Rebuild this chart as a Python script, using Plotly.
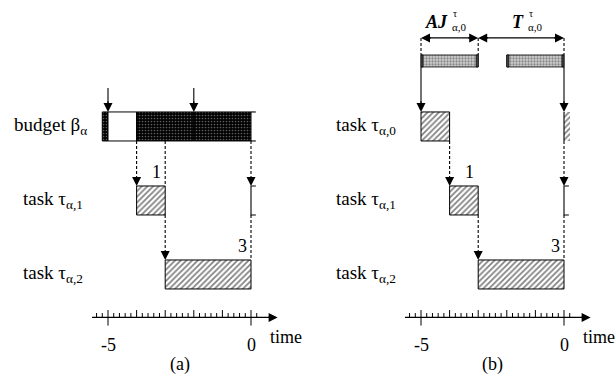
import plotly.graph_objects as go

# ---------------- data ----------------
# panel (a): budget segments (start, end, kind)
budget_a = [(-5.2, -5.0, "dark"), (-5.0, -4.0, "white"), (-4.0, -2.0, "dark"), (-2.0, 0.0, "dark")]
replenish_a = [-5.0, -2.0]
task1_a = (-4.0, -3.0)
task2_a = (-3.0, 0.0)
# panel (b)
task0_b = (-5.0, -4.0)
task0_next_b = (0.0, 0.2)
task1_b = (-4.0, -3.0)
task2_b = (-3.0, 0.0)
windows_b = [(-5.0, -3.0), (-2.0, 0.0)]
dims_b = [(-5.0, -3.0), (-3.0, 0.0)]
tick_labels = [(-5, "-5"), (0, "0")]
minor_ticks = [round(-5.4 + 0.2 * i, 1) for i in range(29)]
rows = {"top": 0, "mid": 1, "bot": 2}

# ---------------- style / layout ----------------
FONT = "Liberation Serif"
H = 0.392          # bar height (row units)
TOPBAR_Y = -0.885
TOPBAR_H = 0.162
DIM_Y = -1.196
AXIS_Y = 2.581
SCALE = 28.6  # px per unit
HATCH = dict(shape="/", fgcolor="#000", bgcolor="white", size=4, solidity=0.42)
DOTS = dict(shape=".", fgcolor="#bbbbbb", bgcolor="black", size=3, solidity=0.25)
GRAYDOTS = dict(shape=".", fgcolor="#444", bgcolor="#cfcfcf", size=3, solidity=0.45)

fig = go.Figure()
annotations = []


def bar(xa, seg, r, pattern=None, color="white", h=H, lw=1):
    s, e = seg
    m = dict(color=color, line=dict(color="black", width=lw))
    if pattern:
        m["pattern"] = pattern
    fig.add_trace(go.Bar(orientation="h", y=[r], x=[e - s], base=[s], width=[h],
                         marker=m, xaxis=xa, yaxis="y", showlegend=False,
                         hoverinfo="skip"))


def line(xa, xs, ys, dash="solid", w=1.1):
    fig.add_trace(go.Scatter(x=xs, y=ys, mode="lines", xaxis=xa, yaxis="y",
                             line=dict(color="black", width=w, dash=dash),
                             showlegend=False, hoverinfo="skip"))


def arrowhead(xa, x, y, ax, ay, side="end"):
    annotations.append(dict(xref=xa, yref="y", axref=xa, ayref="y", x=x, y=y,
                            ax=ax, ay=ay, text="", showarrow=True, arrowhead=2,
                            arrowsize=1.5, arrowwidth=1.2, arrowcolor="black",
                            arrowside=side, standoff=0, startstandoff=0))


def text(xa, x, y, t, size=18, xanchor="center", yanchor="middle"):
    annotations.append(dict(xref=xa, yref="y", x=x, y=y, text=t, showarrow=False,
                            font=dict(family=FONT, size=size, color="black"),
                            xanchor=xanchor, yanchor=yanchor))


def bracket(xa, x, r):
    line(xa, [x + 0.17, x, x, x + 0.17], [r - H / 2, r - H / 2, r + H / 2, r + H / 2])


def dashed_arrow(xa, x, y0, y1, head=True):
    line(xa, [x, x], [y0, y1], dash="3px,2px")
    if head:
        arrowhead(xa, x, y1, x, y1 - 0.14)


def time_axis(xa, label):
    line(xa, [-5.56, 0.8], [AXIS_Y, AXIS_Y], w=1.2)
    arrowhead(xa, 0.93, AXIS_Y, 0.55, AXIS_Y)
    xs, ys = [], []
    for t in minor_ticks:
        up = 0.1 if abs(t - round(t)) < 1e-6 else 0.06
        down = 0.11 if round(t) in (-5, 0) and abs(t - round(t)) < 1e-6 else 0
        xs += [t, t, None]
        ys += [AXIS_Y - up, AXIS_Y + down, None]
    fig.add_trace(go.Scatter(x=xs, y=ys, mode="lines", xaxis=xa, yaxis="y",
                             line=dict(color="black", width=1), showlegend=False,
                             hoverinfo="skip"))
    for v, t in tick_labels:
        text(xa, v, 2.953, t)
    text(xa, 0.58, 2.85, "time", xanchor="left")
    text(xa, -2.5, 3.223, label)


# ---------------- panel (a) ----------------
xa = "x"
top, mid, bot = rows["top"], rows["mid"], rows["bot"]
for s, e, k in budget_a:
    if k == "dark":
        bar(xa, (s, e), top, pattern=DOTS, color="black")
    else:
        bar(xa, (s, e), top, color="white")
line(xa, [0, 0.17], [top - H / 2, top - H / 2])
line(xa, [0, 0.17], [top + H / 2, top + H / 2])
for v in replenish_a:
    line(xa, [v, v], [-0.52, -0.3])
    arrowhead(xa, v, top - H / 2, v, -0.36)
bar(xa, task1_a, mid, pattern=HATCH)
bar(xa, task2_a, bot, pattern=HATCH)
bracket(xa, 0.0, mid)
dashed_arrow(xa, task1_a[0], top + H / 2, mid - H / 2)
dashed_arrow(xa, task1_a[1], top + H / 2, mid - H / 2, head=False)
dashed_arrow(xa, 0.0, top + H / 2, mid - H / 2)
dashed_arrow(xa, task2_a[0], mid + H / 2, bot - H / 2)
dashed_arrow(xa, 0.0, mid + H / 2, bot - H / 2, head=False)
text(xa, task1_a[1] - 0.08, mid - H / 2 - 0.02, "1", xanchor="right", yanchor="bottom")
text(xa, task2_a[1] - 0.08, bot - H / 2 - 0.02, "3", xanchor="right", yanchor="bottom")
text(xa, -5.68, top, "budget β<sub>α</sub>", size=19, xanchor="right")
text(xa, -5.82, mid, "task τ<sub>α,1</sub>", size=19, xanchor="right")
text(xa, -5.82, bot, "task τ<sub>α,2</sub>", size=19, xanchor="right")
time_axis(xa, "(a)")

# ---------------- panel (b) ----------------
xa = "x2"
bar(xa, task0_b, top, pattern=HATCH)
bar(xa, task0_next_b, top, pattern=HATCH, lw=0)
line(xa, [0, 0], [top - H / 2, top + H / 2])
bar(xa, task1_b, mid, pattern=HATCH)
bar(xa, task2_b, bot, pattern=HATCH)
bracket(xa, 0.0, mid)
for s, e in windows_b:
    bar(xa, (s, e), TOPBAR_Y, pattern=GRAYDOTS, color="#cfcfcf", h=TOPBAR_H, lw=0.8)
    for c in (s, e - 0.07):
        bar(xa, (c, c + 0.07), TOPBAR_Y, color="#555", h=TOPBAR_H, lw=0.8)
for v in (task0_b[0], task0_next_b[0]):
    line(xa, [v, v], [TOPBAR_Y + TOPBAR_H / 2, -0.3])
    arrowhead(xa, v, top - H / 2, v, -0.36)
for v in sorted({d for p in dims_b for d in p}):
    line(xa, [v, v], [DIM_Y, TOPBAR_Y - TOPBAR_H / 2], dash="3px,2px")
for s, e in dims_b:
    line(xa, [s + 0.3, e - 0.3], [DIM_Y, DIM_Y], w=1.3)
    arrowhead(xa, e, DIM_Y, e - 0.4, DIM_Y)
    arrowhead(xa, s, DIM_Y, s + 0.4, DIM_Y)
dashed_arrow(xa, task1_b[0], top + H / 2, mid - H / 2)
dashed_arrow(xa, 0.0, top + H / 2, mid - H / 2)
dashed_arrow(xa, task2_b[0], mid + H / 2, bot - H / 2)
dashed_arrow(xa, 0.0, mid + H / 2, bot - H / 2, head=False)
text(xa, task1_b[1] - 0.08, mid - H / 2 - 0.02, "1", xanchor="right", yanchor="bottom")
text(xa, task2_b[1] - 0.08, bot - H / 2 - 0.02, "3", xanchor="right", yanchor="bottom")
text(xa, -5.82, top, "task τ<sub>α,0</sub>", size=19, xanchor="right")
text(xa, -5.82, mid, "task τ<sub>α,1</sub>", size=19, xanchor="right")
text(xa, -5.82, bot, "task τ<sub>α,2</sub>", size=19, xanchor="right")
# dimension labels
text(xa, -3.98, -1.41, "<b><i>AJ</i></b>", xanchor="right")
text(xa, -3.95, -1.53, "τ", size=10, xanchor="left")
text(xa, -3.98, -1.34, "α,0", size=11, xanchor="left")
text(xa, -1.32, -1.41, "<b><i>T</i></b>", xanchor="right")
text(xa, -1.29, -1.53, "τ", size=10, xanchor="left")
text(xa, -1.32, -1.34, "α,0", size=11, xanchor="left")
time_axis(xa, "(b)")

fig.update_layout(
    width=616, height=378, autosize=False,
    margin=dict(l=0, r=0, t=0, b=0),
    paper_bgcolor="white", plot_bgcolor="white",
    barmode="overlay", bargap=0,
    xaxis=dict(domain=[0, 0.5], range=[-251 / SCALE, 57 / SCALE], visible=False, fixedrange=True),
    xaxis2=dict(domain=[0.5, 1], range=[-256 / SCALE, 52 / SCALE], visible=False, fixedrange=True),
    yaxis=dict(range=[3.399, -1.709], visible=False, fixedrange=True),
    annotations=annotations,
)
fig.write_html("out.html", config={"displayModeBar": False, "staticPlot": True},
               post_script="document.body.style.margin='0';document.body.style.overflow='hidden';")
